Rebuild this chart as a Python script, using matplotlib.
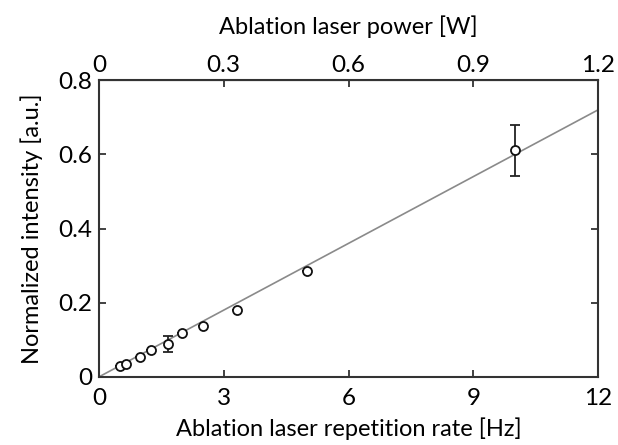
import matplotlib
matplotlib.use("Agg")
import matplotlib.pyplot as plt
import numpy as np

rate_hz = [0.5, 0.65, 1.0, 1.25, 1.67, 2.0, 2.5, 3.33, 5.0, 10.0]
intensity = [0.030, 0.036, 0.054, 0.073, 0.089, 0.118, 0.138, 0.180, 0.285, 0.611]
errors = [0, 0, 0, 0, 0.022, 0, 0, 0, 0, 0.069]
fit_x = [0, 12]
fit_slope = 0.06
x_ticks = [0, 3, 6, 9, 12]
y_ticks = [0, 0.2, 0.4, 0.6, 0.8]
y_ticklabels = ["0", "0.2", "0.4", "0.6", "0.8"]
top_ticks = [0, 0.3, 0.6, 0.9, 1.2]
top_ticklabels = ["0", "0.3", "0.6", "0.9", "1.2"]
power_per_hz = 0.1

plt.rcParams['font.family'] = ['Lato', 'DejaVu Sans']
fig = plt.figure(figsize=(6.18, 4.45), dpi=100)
ax = fig.add_axes([0.160, 0.153, 0.808, 0.667])

fx = np.array(fit_x, dtype=float)
ax.plot(fx, fit_slope * fx, color='#8a8a8a', lw=1.2, zorder=1)

ax.errorbar(rate_hz, intensity, yerr=np.array(errors), fmt='none', ecolor='#222222',
            elinewidth=1.3, capsize=3.5, capthick=1.3, zorder=2)
ax.plot(rate_hz, intensity, 'o', mfc='white', mec='#111111', mew=1.3, ms=6.5, zorder=3)

ax.set_xlim(0, 12)
ax.set_ylim(0, 0.8)
ax.set_xticks(x_ticks)
ax.set_xticklabels([str(t) for t in x_ticks])
ax.set_yticks(y_ticks)
ax.set_yticklabels(y_ticklabels)
for s in ax.spines.values():
    s.set_color('#333333')
    s.set_linewidth(1.5)
ax.tick_params(direction='in', length=5, width=1.3, color='#333333', labelsize=17.5,
               right=True)
ax.tick_params(axis='x', pad=8)
ax.tick_params(axis='y', pad=5)

sec = ax.secondary_xaxis('top', functions=(lambda x: x * power_per_hz, lambda p: p / power_per_hz))
sec.set_xticks(top_ticks)
sec.set_xticklabels(top_ticklabels)
sec.tick_params(direction='in', length=5, width=1.3, color='#333333', labelsize=17.5, pad=3)
sec.set_xlabel('Ablation laser power [W]', fontsize=17, labelpad=15)

ax.set_xlabel('Ablation laser repetition rate [Hz]', fontsize=17, labelpad=6)
ax.set_ylabel('Normalized intensity [a.u.]', fontsize=17, labelpad=11)

fig.savefig('out.png', dpi=100)
